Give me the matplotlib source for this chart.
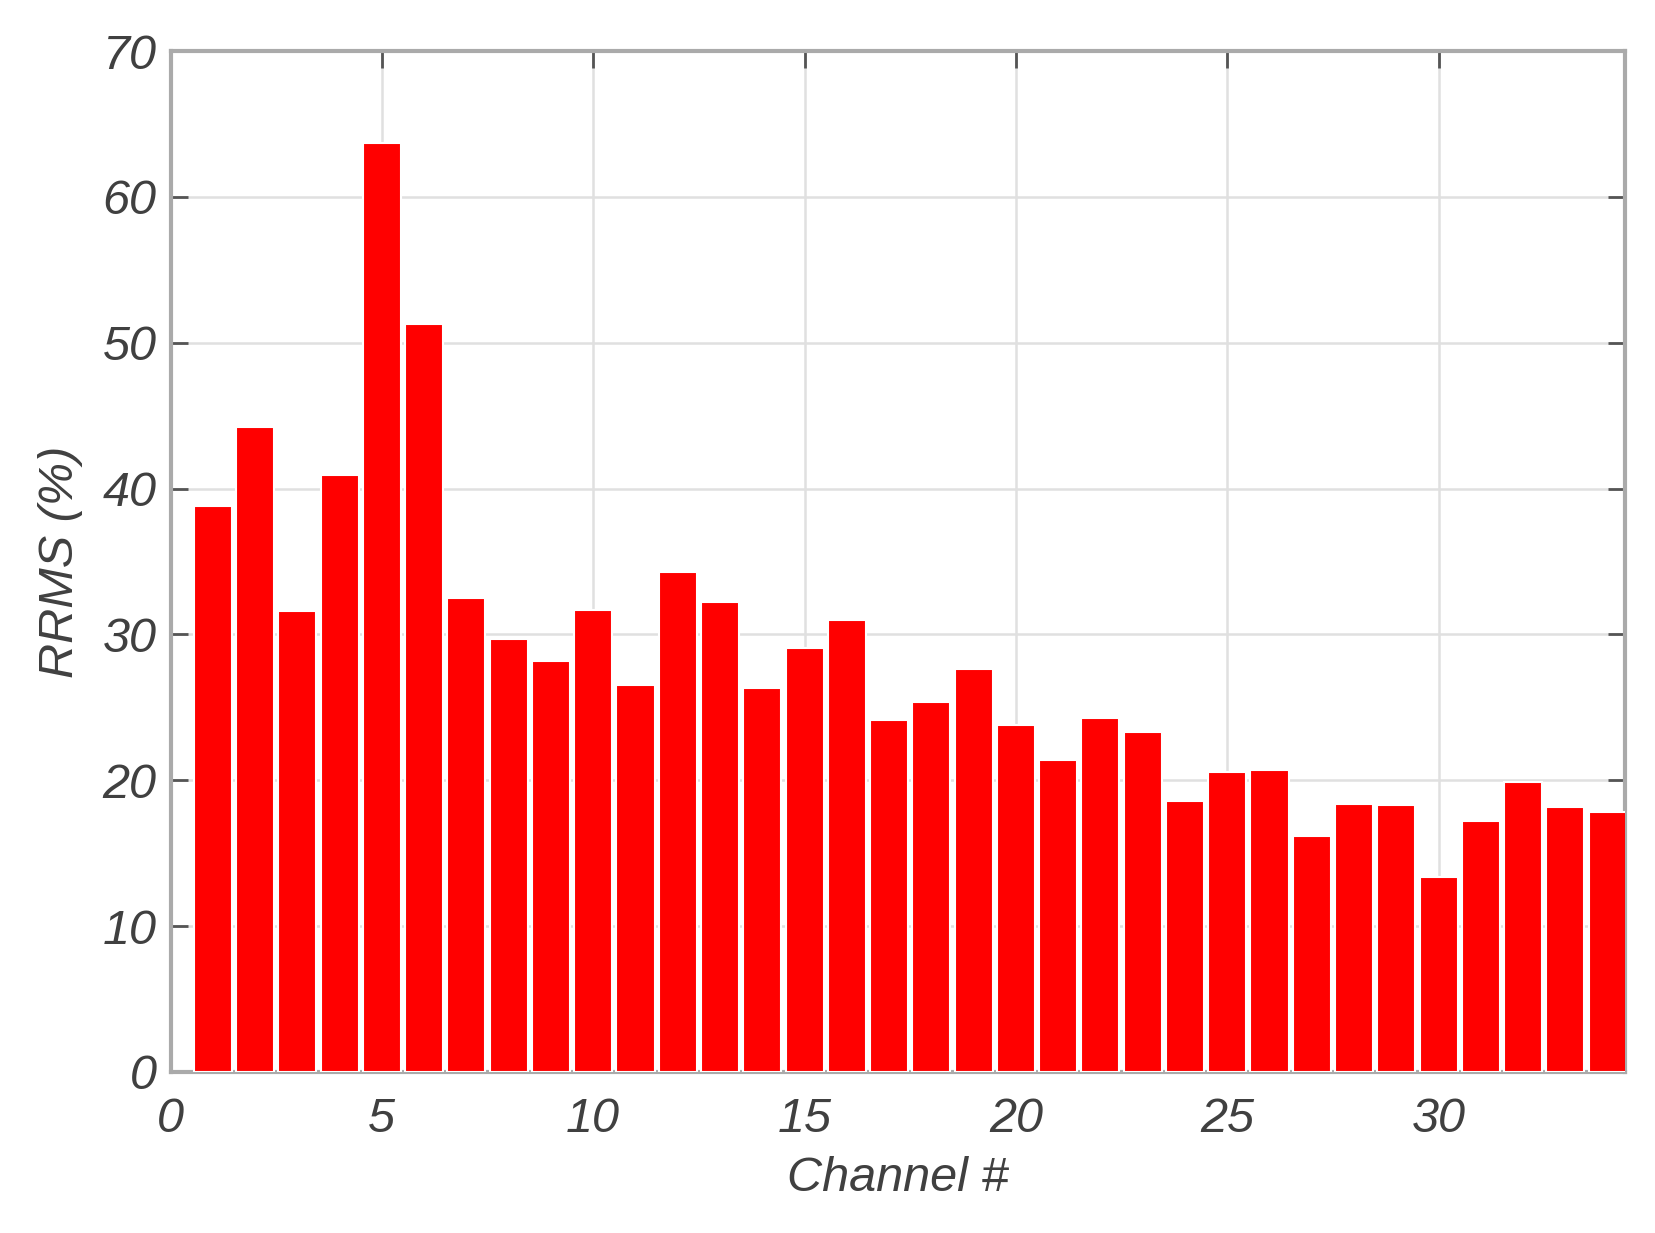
import numpy as np
import matplotlib.pyplot as plt

channels = np.arange(1, 35)
rrms = [38.8, 44.2, 31.6, 40.9, 63.7, 51.3, 32.5, 29.7, 28.2, 31.7,
        26.5, 34.3, 32.2, 26.3, 29.1, 31.0, 24.1, 25.4, 27.6, 23.8,
        21.4, 24.3, 23.3, 18.6, 20.6, 20.7, 16.2, 18.4, 18.3, 13.4,
        17.2, 19.9, 18.2, 17.8]

txt = '#404040'
plt.rcParams['font.family'] = ['Liberation Sans', 'DejaVu Sans']

fig = plt.figure(figsize=(16.56, 12.33), dpi=100)
ax = fig.add_axes([0.103, 0.1306, 0.878, 0.828])

ax.bar(channels, rrms, width=0.9, color='#ff0000', edgecolor='white',
       linewidth=1.5, zorder=3)

ax.set_xlim(0, 34.4)
ax.set_ylim(0, 70)
ax.set_xticks(np.arange(0, 35, 5))
ax.set_yticks(np.arange(0, 71, 10))
ax.grid(True, color='#e0e0e0', linewidth=1.8, zorder=0)
ax.set_axisbelow(True)

ax.tick_params(direction='in', length=12, width=2, colors='#555555',
               top=True, right=True, labelsize=35, labelcolor=txt)
ax.tick_params(axis='x', pad=18)
ax.tick_params(axis='y', pad=10)
for lab in ax.get_xticklabels() + ax.get_yticklabels():
    lab.set_style('italic')
for s in ax.spines.values():
    s.set_color('#aaaaaa')
    s.set_linewidth(3)

ax.set_xlabel('Channel #', fontsize=35, style='italic', color=txt, labelpad=10)
ax.set_ylabel('RRMS (%)', fontsize=35, style='italic', color=txt, labelpad=14)

fig.savefig('out.png', dpi=100)
